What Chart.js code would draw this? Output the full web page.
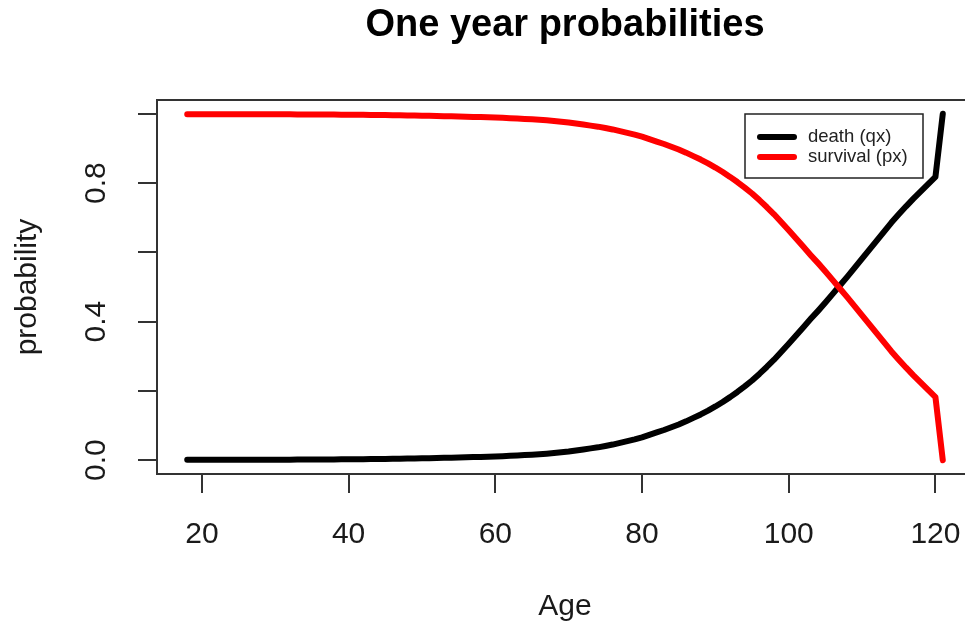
<!DOCTYPE html>
<html>
<head>
<meta charset="utf-8">
<script src="https://cdn.jsdelivr.net/npm/chart.js@4.4.0/dist/chart.umd.min.js"></script>
<style>
    html, body { margin: 0; padding: 0; background: #fff; overflow: hidden; }
</style>
</head>
<body>
<canvas id="canvasProb" width="987" height="629"></canvas>
<script>
// values
const age = [18, 19, 20, 21, 22, 23, 24, 25, 26, 27, 28, 29, 30, 31, 32, 33, 34, 35, 36, 37,
    38, 39, 40, 41, 42, 43, 44, 45, 46, 47, 48, 49, 50, 51, 52, 53, 54, 55, 56, 57,
    58, 59, 60, 61, 62, 63, 64, 65, 66, 67, 68, 69, 70, 71, 72, 73, 74, 75, 76, 77,
    78, 79, 80, 81, 82, 83, 84, 85, 86, 87, 88, 89, 90, 91, 92, 93, 94, 95, 96, 97,
    98, 99, 100, 101, 102, 103, 104, 105, 106, 107, 108, 109, 110, 111, 112, 113, 114, 115, 116, 117,
    118, 119, 120, 121]

const qx = [0.0009, 0.0010, 0.0010, 0.0011, 0.0011, 0.0011, 0.0012, 0.0012, 0.0012, 0.0012,
    0.0013, 0.0013, 0.0014, 0.0014, 0.0015, 0.0016, 0.0017, 0.0018, 0.0019, 0.0020,
    0.0022, 0.0023, 0.0025, 0.0027, 0.0029, 0.0031, 0.0034, 0.0036, 0.0039, 0.0042,
    0.0045, 0.0049, 0.0053, 0.0057, 0.0061, 0.0066, 0.0071, 0.0076, 0.0082, 0.0088,
    0.0094, 0.0101, 0.0108, 0.0116, 0.0125, 0.0135, 0.0146, 0.0158, 0.0172, 0.0187,
    0.0205, 0.0226, 0.025, 0.028, 0.031, 0.034, 0.037, 0.041, 0.045, 0.050,
    0.055, 0.060, 0.066, 0.073, 0.080, 0.087, 0.095, 0.103, 0.112, 0.122,
    0.132, 0.143, 0.155, 0.168, 0.182, 0.197, 0.213, 0.230, 0.249, 0.269,
    0.290, 0.313, 0.336, 0.360, 0.384, 0.408, 0.431, 0.455, 0.480, 0.505,
    0.530, 0.556, 0.582, 0.608, 0.634, 0.660, 0.686, 0.710, 0.733, 0.755,
    0.776, 0.797, 0.818, 1.000]

const px = [0.9991, 0.9990, 0.9990, 0.9989, 0.9989, 0.9989, 0.9988, 0.9988, 0.9988, 0.9988,
    0.9987, 0.9987, 0.9986, 0.9986, 0.9985, 0.9984, 0.9983, 0.9982, 0.9981, 0.9980,
    0.9978, 0.9977, 0.9975, 0.9973, 0.9971, 0.9969, 0.9966, 0.9964, 0.9961, 0.9958,
    0.9955, 0.9951, 0.9947, 0.9943, 0.9939, 0.9934, 0.9929, 0.9924, 0.9918, 0.9912,
    0.9906, 0.9899, 0.9892, 0.9884, 0.9875, 0.9865, 0.9854, 0.9842, 0.9828, 0.9813,
    0.9795, 0.9774, 0.975, 0.972, 0.969, 0.966, 0.963, 0.959, 0.955, 0.950,
    0.945, 0.940, 0.934, 0.927, 0.920, 0.913, 0.905, 0.897, 0.888, 0.878,
    0.868, 0.857, 0.845, 0.832, 0.818, 0.803, 0.787, 0.770, 0.751, 0.731,
    0.710, 0.687, 0.664, 0.640, 0.616, 0.592, 0.569, 0.545, 0.520, 0.495,
    0.470, 0.444, 0.418, 0.392, 0.366, 0.340, 0.314, 0.290, 0.267, 0.245,
    0.224, 0.203, 0.182, 0.000]

const xTicks = [20, 40, 60, 80, 100, 120]
const yTicks = [0, 0.2, 0.4, 0.6, 0.8, 1.0]
const yTickLabels = ['0.0', '', '0.4', '', '0.8', '']
const titolo = 'One year probabilities'
const xTitle = 'Age'
const yTitle = 'probability'
const legendLabels = ['death (qx)', 'survival (px)']

const font = '"Liberation Sans", Arial, sans-serif'

// box, titles, rotated y labels and legend, R style
const rPlot = {
    id: 'rPlot',
    afterDraw(chart) {
        const ctx = chart.ctx
        const a = chart.chartArea
        const ys = chart.scales.y
        const cx = (a.left + a.right) / 2
        ctx.save()
        ctx.strokeStyle = '#333'
        ctx.lineWidth = 2
        ctx.strokeRect(a.left, a.top, a.right - a.left, a.bottom - a.top)

        ctx.textAlign = 'center'
        ctx.textBaseline = 'middle'
        ctx.fillStyle = '#000'
        ctx.font = 'bold 38px ' + font
        ctx.fillText(titolo, cx, 26)

        ctx.fillStyle = '#1a1a1a'
        ctx.font = '30px ' + font
        ctx.fillText(xTitle, cx, 607)
        ctx.save()
        ctx.translate(28, (a.top + a.bottom) / 2)
        ctx.rotate(-Math.PI / 2)
        ctx.fillText(yTitle, 0, 0)
        ctx.restore()

        yTicks.forEach((v, i) => {
            if (!yTickLabels[i]) return
            ctx.save()
            ctx.translate(97, ys.getPixelForValue(v))
            ctx.rotate(-Math.PI / 2)
            ctx.fillText(yTickLabels[i], 0, 0)
            ctx.restore()
        })

        // legend
        ctx.fillStyle = '#fff'
        ctx.fillRect(745, 114, 178, 64)
        ctx.strokeStyle = '#222'
        ctx.lineWidth = 1.5
        ctx.strokeRect(745, 114, 178, 64)
        ctx.font = '18.5px ' + font
        ctx.textAlign = 'left'
        chart.data.datasets.forEach((ds, i) => {
            const y = 137 + i * 20
            ctx.strokeStyle = ds.borderColor
            ctx.lineWidth = 6
            ctx.lineCap = 'round'
            ctx.beginPath()
            ctx.moveTo(760, y)
            ctx.lineTo(794, y)
            ctx.stroke()
            ctx.fillStyle = '#222'
            ctx.fillText(legendLabels[i], 808, y)
        })
        ctx.restore()
    }
}

new Chart(
    document.getElementById('canvasProb'),
    {
        type: 'line',
        data: {
            datasets: [
                {
                    label: legendLabels[0],
                    data: age.map((a, i) => ({ x: a, y: qx[i] })),
                    borderColor: '#000000',
                    borderWidth: 6,
                    order: 2
                },
                {
                    label: legendLabels[1],
                    data: age.map((a, i) => ({ x: a, y: px[i] })),
                    borderColor: '#ff0000',
                    borderWidth: 6,
                    order: 1
                },
            ]
        },
        options: {
            responsive: false,
            animation: false,
            devicePixelRatio: 1,
            elements: {
                point: { radius: 0 },
                line: { tension: 0, borderCapStyle: 'round', borderJoinStyle: 'round' }
            },
            layout: { padding: { top: 100, right: 14, left: 0, bottom: 0 } },
            plugins: {
                legend: { display: false },
                tooltip: { enabled: false }
            },
            scales: {
                x: {
                    type: 'linear',
                    min: 13.88,
                    max: 125.12,
                    afterBuildTicks: s => { s.ticks = xTicks.map(v => ({ value: v })) },
                    afterFit: s => { s.height = 155 },
                    border: { display: false },
                    grid: { drawOnChartArea: false, drawTicks: true, tickLength: 19, color: '#333', lineWidth: 2 },
                    ticks: { color: '#1a1a1a', padding: 24, maxRotation: 0, font: { family: font, size: 30 } }
                },
                y: {
                    min: -0.04,
                    max: 1.04,
                    afterBuildTicks: s => { s.ticks = yTicks.map(v => ({ value: v })) },
                    afterFit: s => { s.width = 157 },
                    border: { display: false },
                    grid: { drawOnChartArea: false, drawTicks: true, tickLength: 19, color: '#333', lineWidth: 2 },
                    ticks: { display: false }
                }
            }
        },
        plugins: [rPlot]
    }
)
</script>
</body>
</html>
